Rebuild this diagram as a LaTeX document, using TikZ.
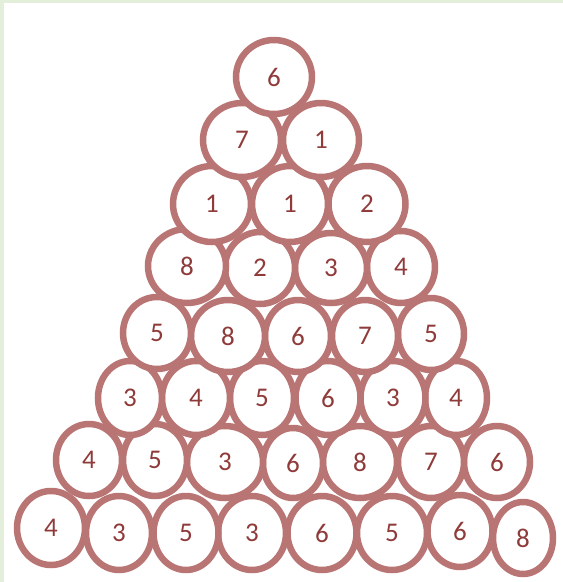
\documentclass[tikz,border=0pt]{standalone}
\usepackage{fontspec}
\setmainfont{Carlito}
\usetikzlibrary{shapes.geometric}
\definecolor{ringc}{HTML}{B97574}
\definecolor{digitc}{HTML}{8E3B3A}
\definecolor{framec}{HTML}{E3EFDA}
\begin{document}
\begin{tikzpicture}[x=1pt,y=-1pt,
  ball/.style={ellipse, draw=ringc, line width=6.5pt, fill=white, inner sep=0pt,
    outer sep=0pt, text=digitc, font=\fontsize{27}{27}\selectfont}]
\fill[framec] (0,0) rectangle (563,582);
\fill[white] (4,3) rectangle (563,582);
\useasboundingbox (0,0) rectangle (563,582);
% x/y/path width/path height/label/name (bottom row first, right to left)
\foreach \x/\y/\w/\h/\t/\n in {
  523/538/60/72/8/h8, 460/531/65/72/6/h7, 392/533/70/74/5/h6, 322/533/69/74/6/h5,
  252/533/68/74/3/h4, 186/533/65/74/5/h3, 119/533/66/74/3/h2, 51/528/68/74/4/h1,
  497/462/66/72/6/g7, 431/462/66/72/7/g6, 360/462/74/72/8/g5, 293/463/60/70/6/g4,
  225/462/76/72/3/g3, 155/460/64/72/5/g2, 89/460/66/72/4/g1,
  456/398/62/74/4/f6, 393/398/65/74/3/f5, 328/398/65/74/6/f4, 262/398/64/74/5/f3,
  196/398/68/74/4/f2, 130/398/64/74/3/f1,
  431/334/66/72/5/e5, 365/336/66/72/7/e4, 298/336/66/72/6/e3, 228/336/74/72/8/e2,
  157/333/68/72/5/e1,
  401/267/68/72/4/d4, 331/268/72/70/3/d3, 260/268/70/72/2/d2, 187/266/78/74/8/d1,
  367/204/77/76/2/c3, 290/204/76/76/1/c2, 212/204/78/76/1/c1,
  321/140/76/74/1/b2, 242/140/78/74/7/b1,
  274/77/76/74/6/a1}
{
  \node[ball, minimum width=\w pt, minimum height=\h pt] (\n) at (\x,\y) {\t};
}
\end{tikzpicture}
\end{document}
